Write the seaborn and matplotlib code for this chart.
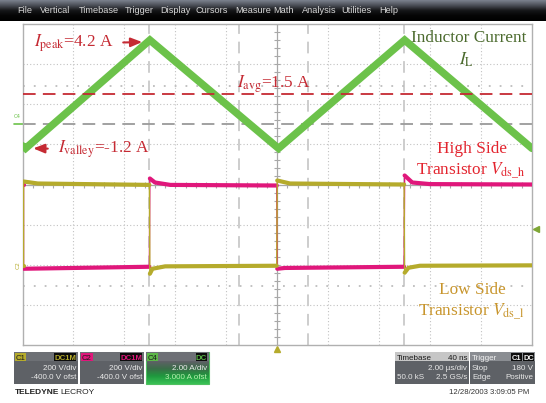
import numpy as np
import matplotlib
matplotlib.use("Agg")
import matplotlib.pyplot as plt
import seaborn as sns
from matplotlib.patches import Rectangle
from matplotlib.colors import LinearSegmentedColormap
from matplotlib.transforms import blended_transform_factory

# ---------------- waveform data (time in microseconds) ----------------
# C4: inductor current, amps
il_time_us = [-10.0, -9.88, -5.0, 0.05, 5.0, 10.0]
il_amps = [-1.07, -1.2, 4.2, -1.2, 4.2, -1.2]
i_peak = 4.2
i_valley = -1.2
i_avg = 1.5
t_peak_us = -5.0
t_valley_us = -9.88

# C2: high side transistor drain-source voltage, volts
vds_h_time_us = [-10.0, -9.96, -9.96, -5.02, -5.0, -4.8, -4.2, -0.02, 0.0, 0.3,
                 4.98, 5.0, 5.3, 6.0, 10.0]
vds_h_volts = [398, 398, -20, -10, 430, 410, 398, 395, -20, -16,
               -10, 445, 410, 402, 400]

# C1: low side transistor drain-source voltage, volts
vds_l_time_us = [-10.0, -9.96, -9.96, -9.4, -5.02, -5.0, -4.9, -4.4, -0.02, 0.0,
                 0.5, 4.98, 5.0, 5.15, 5.6, 10.0]
vds_l_volts = [-5, -5, 415, 405, 398, -45, -20, -8, -5, 420,
               405, 400, -40, -15, -5, -3]

# cursors and trigger
time_cursors_us = [-5.02, -1.5, 1.21, 4.98]
level_cursors_a = [1.9, -8.05]
trigger_level_v = 180

# scope settings
us_per_div = 2.0
amps_per_div, amps_offset = 2.0, 3.0
volts_per_div, volts_offset = 200.0, -400.0

menu_items = ["File", "Vertical", "Timebase", "Trigger", "Display", "Cursors",
              "Measure", "Math", "Analysis", "Utilities", "Help"]
menu_x = [17, 40, 79, 125, 160, 196, 235, 273, 302, 341, 379]

# ---------------- colours ----------------
C_GREEN = "#6cc24a"
C_YELLOW = "#b5ab2c"
C_PINK = "#e0177b"
C_ANN = "#c52a33"
C_HIGH = "#e3242e"
C_LOW = "#c8952c"
C_IND = "#4b6a2d"
C_GRID = "#c2c2c2"
FS = 12.4

sns.set_style("white")
plt.rcParams["font.family"] = ["Liberation Serif", "DejaVu Serif"]
plt.rcParams["mathtext.fontset"] = "stix"

W, H = 546, 403
fig = plt.figure(figsize=(W / 100, H / 100), dpi=100)
fig.patch.set_facecolor("white")


def fx(x):
    return x / W


def fy(y):
    return 1 - y / H


def rect(x0, y0, x1, y1, fc, ec="none", lw=0, z=1):
    fig.add_artist(Rectangle((fx(x0), fy(y1)), (x1 - x0) / W, (y1 - y0) / H,
                             transform=fig.transFigure, fc=fc, ec=ec, lw=lw, zorder=z))


def ui_text(x, y, s, color="#e8e8e8", size=5.8, ha="left", weight="normal", z=6):
    fig.text(fx(x), fy(y), s, color=color, fontsize=size, ha=ha, va="baseline",
             family=["Liberation Sans", "DejaVu Sans"], weight=weight, zorder=z)


def draw_switching_trace(axis, times, volts, color):
    """Thin switching edges, thick flat-top segments between them."""
    t = np.asarray(times, float)
    v = np.asarray(volts, float)
    sns.lineplot(x=t, y=v, ax=axis, color=color, lw=1.0, estimator=None,
                 sort=False, zorder=3)
    cuts = np.where(np.diff(t) < 0.03)[0] + 1
    for ts, vs in zip(np.split(t, cuts), np.split(v, cuts)):
        if len(ts) > 1:
            sns.lineplot(x=ts, y=vs, ax=axis, color=color, lw=3.0,
                         estimator=None, sort=False, zorder=3)


# ---------------- main graticule ----------------
ax = fig.add_axes([fx(22.5), fy(345), 509.5 / W, 321 / H])
ax.set_xlim(-5 * us_per_div, 5 * us_per_div)
ax.set_ylim(-amps_offset - 4 * amps_per_div, -amps_offset + 4 * amps_per_div)
ax.set_xticks([]); ax.set_yticks([])
for s in ax.spines.values():
    s.set_color("#b0b0b0"); s.set_linewidth(1.0)

x_lo, x_hi = ax.get_xlim()
y_lo, y_hi = ax.get_ylim()
y_mid = (y_lo + y_hi) / 2
for t in np.arange(x_lo + us_per_div, x_hi, us_per_div):
    if abs(t) > 1e-9:
        ax.axvline(t, color=C_GRID, lw=0.8, ls=(0, (1, 2)), zorder=1)
for a in np.arange(y_lo + amps_per_div, y_hi, amps_per_div):
    if abs(a - y_mid) > 1e-9:
        ax.axhline(a, color=C_GRID, lw=0.8, ls=(0, (1, 2)), zorder=1)
ax.axvline(0, color="#a8a8a8", lw=0.9, zorder=1)
ax.axhline(y_mid, color="#a8a8a8", lw=0.9, zorder=1)
ax.plot(np.zeros(41), np.linspace(y_lo, y_hi, 41), ls="none", marker="_",
        ms=4, mew=0.8, color="#a8a8a8", zorder=1)
ax.plot(np.linspace(x_lo, x_hi, 51), np.full(51, y_mid), ls="none", marker="|",
        ms=4, mew=0.8, color="#a8a8a8", zorder=1)

for t in time_cursors_us:
    ax.axvline(t, color="#cdcdcd", lw=1.4, dashes=(6, 4), zorder=1)
for a in level_cursors_a:
    ax.axhline(a, color="#bdbdbd", lw=1.3, dashes=(1, 5), zorder=1)

# zero-current reference and average current
ax.axhline(0, color="#9a9a9a", lw=1.3, dashes=(7, 4), zorder=2)
sns.lineplot(x=il_time_us, y=il_amps, ax=ax, color=C_GREEN, lw=5.4,
             estimator=None, sort=False, zorder=3, solid_joinstyle="miter")
ax.axhline(i_avg, color=C_ANN, lw=1.3, dashes=(7, 4), zorder=4)

# voltage channels on their own scale
ax2 = ax.twinx()
ax2.set_ylim(-volts_offset - 4 * volts_per_div, -volts_offset + 4 * volts_per_div)
ax2.set_yticks([])
for s in ax2.spines.values():
    s.set_visible(False)
draw_switching_trace(ax2, vds_h_time_us, vds_h_volts, C_PINK)
draw_switching_trace(ax2, vds_l_time_us, vds_l_volts, C_YELLOW)
ax2.set_xlim(x_lo, x_hi)

# channel ground markers, trigger markers
bl = blended_transform_factory(ax.transAxes, ax.transData)
ax.plot([-0.016, 0.0], [0, 0], color=C_GREEN, lw=1.2, transform=bl, clip_on=False)
ax.text(-0.004, 0.25, "C4", color=C_GREEN, fontsize=3.8, ha="right", va="bottom",
        transform=bl, family="DejaVu Sans")
bl2 = blended_transform_factory(ax2.transAxes, ax2.transData)
ax2.text(-0.004, 0, "C2", color=C_YELLOW, fontsize=4.2, ha="right", va="center",
         rotation=90, transform=bl2, family="DejaVu Sans")
ax2.plot([1.008], [trigger_level_v], marker="<", ms=4, color="#7fa636",
         transform=bl2, clip_on=False)
bl3 = blended_transform_factory(ax.transData, ax.transAxes)
ax.plot([0], [-0.012], marker="^", ms=4.5, color=C_YELLOW, transform=bl3, clip_on=False)

# ---------------- annotations ----------------
arrow = dict(arrowstyle="-|>,head_length=0.55,head_width=0.22", color=C_ANN,
             lw=1.5, shrinkA=5, shrinkB=0)
ax.annotate(f"$I_{{\\mathrm{{peak}}}}$={i_peak} A", xy=(t_peak_us - 0.3, i_peak - 0.1),
            xytext=(fx(113), fy(47)), textcoords="figure fraction",
            ha="right", va="baseline", color=C_ANN, fontsize=FS, arrowprops=arrow,
            zorder=6)
ax.annotate(f"$I_{{\\mathrm{{valley}}}}$={i_valley} A",
            xy=(t_valley_us + 0.3, i_valley), xytext=(fx(58), fy(153)),
            textcoords="figure fraction", ha="left", va="baseline",
            color=C_ANN, fontsize=FS, arrowprops=arrow, zorder=6)
fig.text(fx(237), fy(88), f"$I_{{\\mathrm{{avg}}}}$={i_avg} A", color=C_ANN,
         fontsize=FS, ha="left", va="baseline", zorder=6)

fig.text(fx(469), fy(42), "Inductor Current", color=C_IND, fontsize=FS,
         ha="center", va="baseline", zorder=6)
fig.text(fx(467), fy(65), r"$I_{\mathrm{L}}$", color=C_IND, fontsize=FS,
         ha="center", va="baseline", zorder=6)
fig.text(fx(472), fy(153), "High Side", color=C_HIGH, fontsize=FS,
         ha="center", va="baseline", zorder=6)
fig.text(fx(471), fy(175), r"Transistor $V_{\mathrm{ds\_h}}$", color=C_HIGH,
         fontsize=FS, ha="center", va="baseline", zorder=6)
fig.text(fx(472), fy(294), "Low Side", color=C_LOW, fontsize=FS,
         ha="center", va="baseline", zorder=6)
fig.text(fx(471), fy(316), r"Transistor $V_{\mathrm{ds\_l}}$", color=C_LOW,
         fontsize=FS, ha="center", va="baseline", zorder=6)

# ---------------- menu bar ----------------
bar = fig.add_axes([0, fy(21), 1, 21 / H])
bar_cmap = LinearSegmentedColormap.from_list(
    "bar", ["#7a808c", "#4a4e56", "#151618", "#050505", "#000000"])
bar.imshow(np.linspace(0, 1, 40).reshape(-1, 1), cmap=bar_cmap, aspect="auto",
           extent=(0, 1, 0, 1))
bar.axis("off")
for name, x in zip(menu_items, menu_x):
    ui_text(x, 13, name, color="#d6d6d6", size=6.6)

# ---------------- channel / timebase boxes ----------------
BOX = "#5e6166"
HEAD = "#6d7075"


def channel_box(x0, x1, tag, tag_col, tag_w, coupling, coup_w, line1, line2,
                text_col="#ececec"):
    rect(x0, 352, x1, 384, BOX, z=1)
    rect(x0, 352, x1, 361, HEAD, z=1)
    rect(x0 + 1, 353, x0 + 1 + tag_w, 360.5, tag_col, z=3)
    ui_text(x0 + 2, 359.5, tag, color="#1a1a1a", size=5.6, z=6)
    rect(x1 - 2 - coup_w, 353, x1 - 2, 360.5, "#0c0c0c", z=3)
    ui_text(x1 - 2 - coup_w / 2, 359.5, coupling, color=tag_col, size=5.6,
            ha="center", weight="bold", z=6)
    ui_text(x1 - 2, 370, line1, color=text_col, size=5.8, ha="right")
    ui_text(x1 - 2, 379, line2, color=text_col, size=5.8, ha="right")


channel_box(14, 78, "C1", C_YELLOW, 11, "DC1M", 22, "200 V/div", "-400.0 V ofst")
channel_box(80, 144, "C2", C_PINK, 12, "DC1M", 22, "200 V/div", "-400.0 V ofst")

# C4 box is the active channel: green glow underneath its text
rect(146, 352, 209, 384, BOX, ec="#4fc060", lw=0.8, z=1)
glow = fig.add_axes([fx(146.5), fy(383.5), 62 / W, 22 / H])
glow_cmap = LinearSegmentedColormap.from_list(
    "glow", ["#5e6166", "#3a6e48", "#1f9a3e", "#39c055"])
glow.imshow(np.linspace(0, 1, 30).reshape(-1, 1), cmap=glow_cmap, aspect="auto",
            extent=(0, 1, 0, 1))
glow.axis("off")
glow.set_zorder(2)
rect(146, 352, 209, 361, HEAD, z=3)
rect(147, 353, 158, 360.5, "#5cb848", z=3)
ui_text(148, 359.5, "C4", color="#1a1a1a", size=5.6)
rect(196, 353, 207, 360.5, "#0c0c0c", z=3)
ui_text(201.5, 359.5, "DC", color="#5cb848", size=5.6, ha="center", weight="bold")
ui_text(207, 370, "2.00 A/div", color="#ececec", size=5.8, ha="right")
ui_text(207, 379, "3.000 A ofst", color="#b8f0b0", size=5.8, ha="right")

# timebase
rect(395, 352, 469, 384, BOX, z=1)
rect(395, 352, 469, 361, "#c6c6c6", z=3)
ui_text(397, 359.5, "Timebase", color="#1a1a1a", size=5.8)
ui_text(467, 359.5, "40 ns", color="#1a1a1a", size=5.8, ha="right")
ui_text(467, 370, "2.00 \u00b5s/div", size=5.8, ha="right")
ui_text(397, 379, "50.0 kS", size=5.8)
ui_text(467, 379, "2.5 GS/s", size=5.8, ha="right")

# trigger
rect(470, 352, 535, 384, BOX, z=1)
rect(470, 352, 535, 361, "#8a8d92", z=3)
ui_text(472, 359.5, "Trigger", color="#f2f2f2", size=5.8)
rect(511, 353, 522, 360.5, "#0c0c0c", z=4)
ui_text(516.5, 359.5, "C1", color="#f2f2f2", size=5.4, ha="center", weight="bold")
rect(523, 353, 534, 360.5, "#0c0c0c", z=4)
ui_text(528.5, 359.5, "DC", color="#f2f2f2", size=5.4, ha="center", weight="bold")
ui_text(472, 370, "Stop", size=5.8)
ui_text(533, 370, "180 V", size=5.8, ha="right")
ui_text(472, 379, "Edge", size=5.8)
ui_text(533, 379, "Positive", size=5.8, ha="right")

# footer
ui_text(15, 394, "TELEDYNE", color="#222222", size=6.0, weight="bold")
ui_text(60, 394, "LECROY", color="#222222", size=6.0)
ui_text(529, 394, "12/28/2003 3:09:05 PM", color="#333333", size=5.6, ha="right")

fig.savefig("out.png", dpi=100)
